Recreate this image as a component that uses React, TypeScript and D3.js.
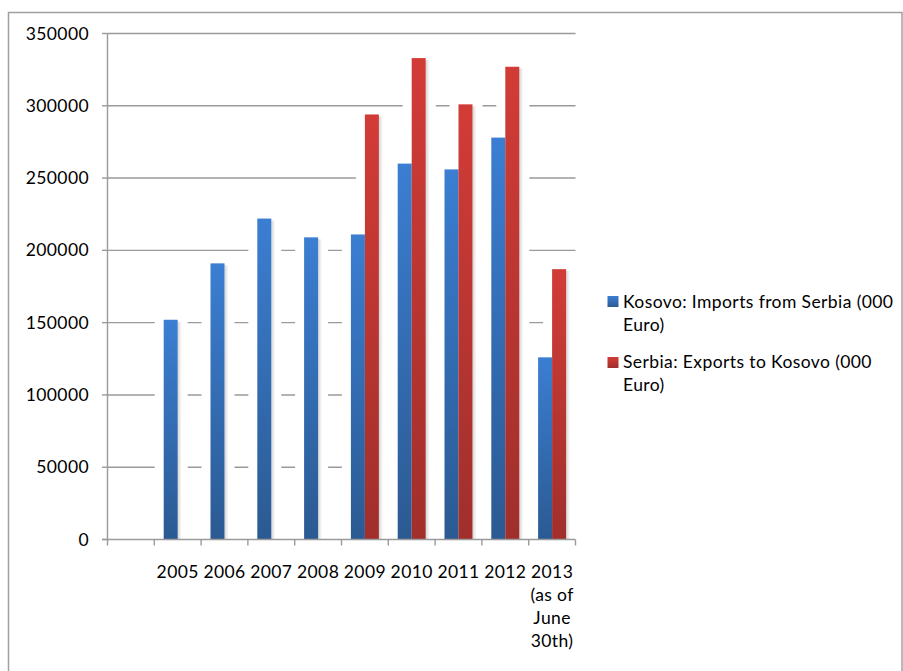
import React from "react";
import * as d3 from "d3";

const categories = ["", "2005", "2006", "2007", "2008", "2009", "2010", "2011", "2012", "2013\n(as of\nJune\n30th)"];
const seriesNames = ["Kosovo: Imports from Serbia (000\nEuro)", "Serbia: Exports to Kosovo (000\nEuro)"];
const importsFromSerbia: (number | null)[] = [null, 152000, 191000, 222000, 209000, 211000, 260000, 256000, 278000, 126000];
const exportsToKosovo: (number | null)[] = [null, null, null, null, null, 294000, 333000, 301000, 327000, 187000];
const yTicks = [0, 50000, 100000, 150000, 200000, 250000, 300000, 350000];

const W = 903;
const H = 671;
const FONT = "Lato, 'Open Sans', sans-serif";
const FS = 17.5;
const LS = 0.4;

export default function App() {
  const left = 107.5;
  const right = 575.5;
  const top = 33.5;
  const bottom = 539.5;
  const x = d3.scaleBand<string>().domain(categories.map((c, i) => i + "")).range([left, right]).paddingInner(0).paddingOuter(0);
  const y = d3.scaleLinear().domain([0, 350000]).range([bottom, top]);
  const bw = x.bandwidth();
  const pair = 28;
  const xs = d3.scaleBand<string>().domain(["0", "1"]).range([(bw - pair) / 2, (bw + pair) / 2]);
  const series = [importsFromSerbia, exportsToKosovo];
  const fills = ["url(#gBlue)", "url(#gRed)"];

  const bars: { x: number; y: number; w: number; h: number; s: number; key: string }[] = [];
  series.forEach((vals, s) => {
    vals.forEach((v, i) => {
      if (v == null) return;
      const bx = (x(i + "") as number) + (xs(s + "") as number);
      const by = y(v);
      bars.push({ x: bx, y: by, w: xs.bandwidth(), h: y(0) - by, s, key: s + "-" + i });
    });
  });

  return (
    <svg width={W} height={H} style={{ position: "absolute", left: 0, top: 0, background: "#fff" }} fontFamily={FONT}>
      <defs>
        <linearGradient id="gBlue" x1="0" y1="0" x2="0" y2="1">
          <stop offset="0" stopColor="#3B7ED2" />
          <stop offset="1" stopColor="#2B5A92" />
        </linearGradient>
        <linearGradient id="gRed" x1="0" y1="0" x2="0" y2="1">
          <stop offset="0" stopColor="#D23C37" />
          <stop offset="1" stopColor="#A02F2C" />
        </linearGradient>
        <linearGradient id="gShadow" x1="0" y1="0" x2="1" y2="0">
          <stop offset="0" stopColor="#d4d4d4" />
          <stop offset="1" stopColor="#ffffff" />
        </linearGradient>
      </defs>
      <rect x={8.5} y={12.5} width={893.5} height={700} fill="#fff" stroke="#A0A0A0" strokeWidth={1.5} />

      {yTicks.filter((t) => t > 0).map((t) => (
        <line key={"g" + t} x1={left} x2={right} y1={y(t)} y2={y(t)} stroke="#9a9a9a" strokeWidth={1.4} />
      ))}

      {bars.map((b) => (
        <rect key={"h" + b.key} x={b.x - 9} y={b.y - 3} width={b.w + 19} height={b.h + 3} fill="#fff" />
      ))}
      {bars.map((b) => (
        <rect key={"sh" + b.key} x={b.x + b.w} y={b.y + 2} width={4} height={b.h - 2} fill="url(#gShadow)" />
      ))}
      {bars.map((b) => (
        <rect key={"b" + b.key} x={b.x} y={b.y} width={b.w} height={b.h} fill={fills[b.s]} />
      ))}

      <line x1={left} x2={left} y1={top} y2={bottom} stroke="#9a9a9a" strokeWidth={1.4} />
      {yTicks.map((t) => (
        <g key={"yt" + t}>
          <line x1={left - 5.5} x2={left} y1={y(t)} y2={y(t)} stroke="#9a9a9a" strokeWidth={1.4} />
          <text x={89} y={y(t) + 6} textAnchor="end" fontSize={FS} letterSpacing={LS} fill="#000">{t}</text>
        </g>
      ))}

      <line x1={left - 5.5} x2={right} y1={bottom} y2={bottom} stroke="#9a9a9a" strokeWidth={1.4} />
      {categories.map((c, i) => (
        <line key={"xt" + i} x1={x(i + "")} x2={x(i + "")} y1={bottom} y2={bottom + 6} stroke="#9a9a9a" strokeWidth={1.4} />
      ))}
      <line x1={right} x2={right} y1={bottom} y2={bottom + 6} stroke="#9a9a9a" strokeWidth={1.4} />
      {categories.map((c, i) => (
        <text key={"xl" + i} textAnchor="middle" fontSize={FS} letterSpacing={LS} fill="#000">
          {c.split("\n").map((line, j) => (
            <tspan key={j} x={(x(i + "") as number) + bw / 2} y={578 + j * 23}>{line}</tspan>
          ))}
        </text>
      ))}

      {seriesNames.map((n, s) => (
        <g key={"lg" + s}>
          <rect x={607.5} y={296 + s * 61} width={11} height={11} fill={fills[s]} />
          <text fontSize={FS} letterSpacing={LS} fill="#000">
            {n.split("\n").map((line, j) => (
              <tspan key={j} x={623} y={308 + s * 60 + j * 23}>{line}</tspan>
            ))}
          </text>
        </g>
      ))}
    </svg>
  );
}
